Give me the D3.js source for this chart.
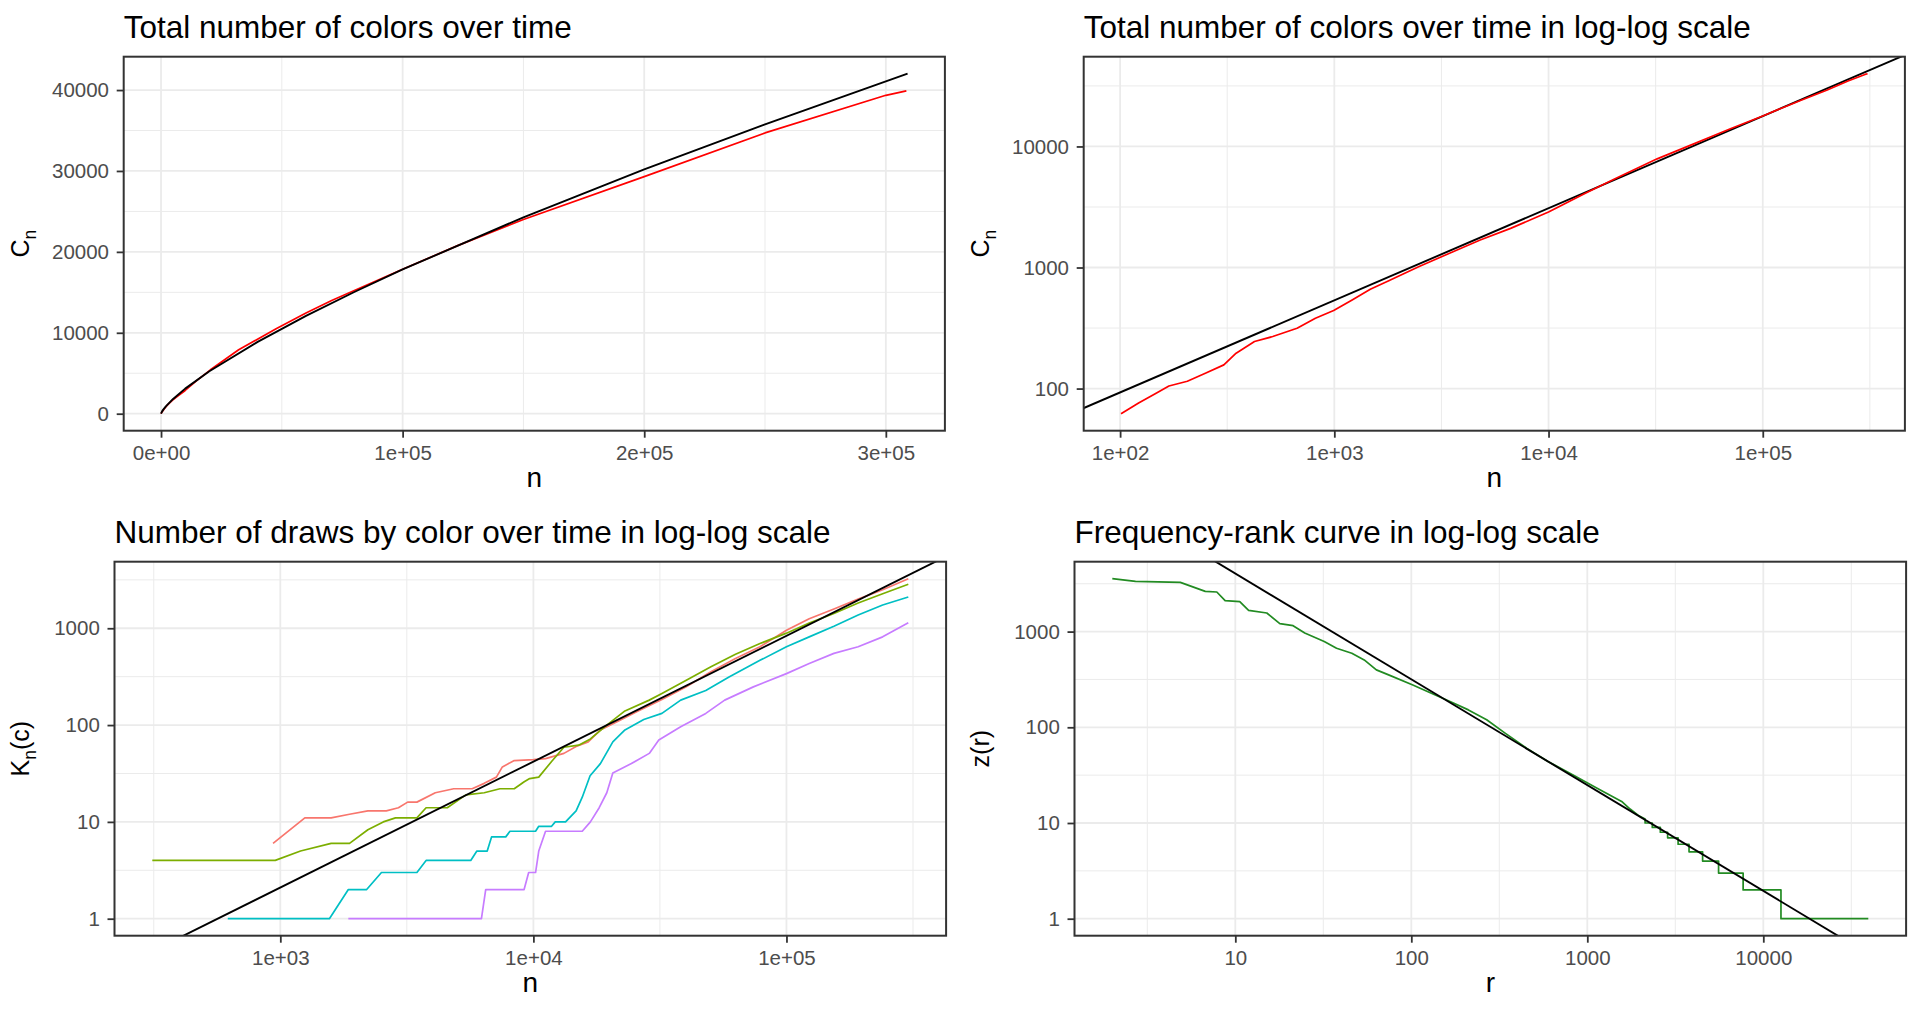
<!DOCTYPE html>
<html>
<head>
<meta charset="utf-8">
<script src="https://cdn.jsdelivr.net/npm/d3@7"></script>
<style>
  body { margin: 0; background: #fff; }
  svg { display: block; }
  text { font-family: "Liberation Sans", Arial, sans-serif; }
</style>
</head>
<body>
<svg id="fig" width="1920" height="1009"></svg>
<script>
// ---- data ----

// total number of colors C_n after n draws (red line, top panels)
var drawsN  = [0, 101, 122, 148, 169, 206, 250, 305, 348, 424, 516, 670, 816, 993, 1211, 1472, 1795, 2489, 3451, 4797, 6653, 10000, 14620, 20320, 32140, 47640, 60000, 70630, 100000, 123000, 150000, 200000, 250000, 300000, 308500];
var colorsC = [0, 62, 76, 92, 105, 115, 134, 157, 196, 245, 269, 315, 381, 441, 540, 661, 776, 1019, 1312, 1687, 2104, 2871, 4055, 5395, 7900, 10500, 12450, 14000, 17850, 20800, 24000, 29300, 34700, 39350, 39900];

// fitted curve (black) in linear scale
var fitN = [0, 500, 1000, 2000, 5000, 10000, 20000, 40000, 60000, 80000, 100000, 150000, 200000, 250000, 309000];
var fitC = [0, 318, 538, 911, 1829, 3097, 5245, 8884, 12085, 15040, 17825, 24270, 30190, 35770, 42020];

// fitted straight line in log-log (two ends, clipped by the panel)
var fitCLog = [[60, 63], [500000, 60600]];

// number of draws K_n(c) for four colors
var drawsColor1 = [[936,6],[1250,11],[1588,11],[1877,12],[2218,13],[2622,13],[2929,14],[3185,16],[3465,16],[4097,20],[4845,22],[5728,22],[6394,25],[7142,29],[7540,37],[8400,43],[10000,44],[11170,45],[13200,51],[14750,60],[16470,67],[18400,89],[21800,111],[25700,138],[32200,184],[40200,249],[50300,355],[62900,486],[78600,644],[100000,955],[123000,1254],[154000,1580],[192000,2000],[240000,2500],[303000,3250]];
var drawsColor2 = [[312,4],[955,4],[1202,5],[1588,6],[1877,6],[2218,8.3],[2551,10],[2852,11],[3465,11],[3767,14],[4567,14],[5410,19],[6394,20],[7375,22],[8400,22],[9200,26],[9668,28],[10500,29],[11800,42],[13200,59],[15100,62],[16800,72],[19500,100],[23000,140],[28700,181],[32200,212],[40200,291],[50300,400],[62900,540],[78600,695],[100000,890],[123000,1130],[154000,1420],[192000,1820],[240000,2270],[303000,2850]];
var drawsColor3 = [[620,1],[1563,1],[1857,2],[2194,2],[2510,3],[3465,3],[3767,4],[5655,4],[5980,5],[6570,5],[6834,7],[7776,7],[8080,8],[10200,8],[10500,9],[11800,9],[12200,10],[13400,10],[14750,13],[15600,18],[16750,30],[18400,40],[20600,67],[23000,89],[27300,114],[32200,132],[38200,181],[48000,228],[59300,314],[78600,466],[100000,644],[123000,815],[154000,1050],[192000,1370],[240000,1740],[303000,2100]];
var drawsColor4 = [[1857,1],[6234,1],[6480,2],[9190,2],[9580,3],[10200,3],[10500,5],[11170,8],[15600,8],[16800,10],[18200,14],[19500,20],[20600,32],[24400,40],[28700,51],[31300,70],[38200,96],[48000,132],[57000,181],[74000,248],[100000,340],[123000,433],[154000,550],[192000,644],[240000,815],[303000,1140]];
var fitKLog = [[200, 0.259], [500000, 6775]];

// frequency-rank curve z(r)
var rankFreq = [[2,3570],[2.71,3350],[4.87,3270],[6.75,2630],[7.85,2594],[8.75,2104],[10.6,2052],[11.9,1666],[15.1,1563],[17.9,1210],[21.3,1153],[24.8,967],[32,787],[37.6,670],[45.9,594],[54,506],[63.3,398],[74.3,353],[102,277],[130,227],[166,186],[211,152],[268,120],[341,86.9],[452,60.5],[598,44],[825,31.9],[1137,23.1],[1567,16.8],[1750,14],[1950,12],[2130,11],[2130,10],[2340,10],[2340,9],[2600,9],[2600,8],[2860,8],[2860,7],[3280,7],[3280,6],[3785,6],[3785,5],[4520,5],[4520,4],[5570,4],[5570,3],[7680,3],[7680,2],[12600,2],[12600,1],[39500,1]];
var fitZLog = [[1, 51600], [100000, 0.153]];

// ticks
var linXTicks = [0, 100000, 200000, 300000];
var linXLabels = ["0e+00", "1e+05", "2e+05", "3e+05"];
var linXMinor = [50000, 150000, 250000];
var linYTicks = [0, 10000, 20000, 30000, 40000];
var linYLabels = ["0", "10000", "20000", "30000", "40000"];
var linYMinor = [5000, 15000, 25000, 35000];

var logNTicks = [100, 1000, 10000, 100000];
var logNLabels = ["1e+02", "1e+03", "1e+04", "1e+05"];
var logCTicks = [100, 1000, 10000];
var logCLabels = ["100", "1000", "10000"];
var logKTicks = [1, 10, 100, 1000];
var logKLabels = ["1", "10", "100", "1000"];
var logRTicks = [10, 100, 1000, 10000];
var logRLabels = ["10", "100", "1000", "10000"];
var logMinor = [3.162, 31.62, 316.2, 3162, 31623, 316228];

var hueColors = ["#F8766D", "#7CAE00", "#00BFC4", "#C77CFF"];

// ---- drawing ----
var svg = d3.select("#fig");
var tickFont = 20.5, titleFont = 31.5, axisTitleFont = 28, yTitleFont = 25;

function pairs(xs, ys) {
    return xs.map(function (x, i) { return [x, ys[i]]; });
}

// ggplot-like 5% expansion, in transformed space for log scales
function makeScale(isLog, ext, range) {
    if (isLog) {
        var lo = Math.log10(ext[0]), hi = Math.log10(ext[1]), d = (hi - lo) * 0.05;
        return d3.scaleLog().domain([Math.pow(10, lo - d), Math.pow(10, hi + d)]).range(range);
    }
    var e = (ext[1] - ext[0]) * 0.05;
    return d3.scaleLinear().domain([ext[0] - e, ext[1] + e]).range(range);
}

function drawPanel(p, idx) {
    var b = p.box;
    var w = b.x1 - b.x0, h = b.y1 - b.y0;

    var all = [];
    p.series.forEach(function (s) { if (!s.fit) all = all.concat(s.data); });
    var x = makeScale(p.xLog, d3.extent(all, function (d) { return d[0]; }), [0, w]);
    var y = makeScale(p.yLog, d3.extent(all, function (d) { return d[1]; }), [h, 0]);

    var g = svg.append("g").attr("transform", "translate(" + b.x0 + "," + b.y0 + ")");

    svg.append("defs").append("clipPath").attr("id", "clip" + idx)
        .append("rect").attr("width", w).attr("height", h);

    // grid, minor then major
    var grid = g.append("g");
    function vlines(vals, sw) {
        grid.selectAll(null).data(vals.filter(function (v) { var px = x(v); return px >= 0 && px <= w; }))
            .enter().append("line")
            .attr("x1", function (d) { return x(d); }).attr("x2", function (d) { return x(d); })
            .attr("y1", 0).attr("y2", h)
            .attr("stroke", "#EBEBEB").attr("stroke-width", sw);
    }
    function hlines(vals, sw) {
        grid.selectAll(null).data(vals.filter(function (v) { var py = y(v); return py >= 0 && py <= h; }))
            .enter().append("line")
            .attr("y1", function (d) { return y(d); }).attr("y2", function (d) { return y(d); })
            .attr("x1", 0).attr("x2", w)
            .attr("stroke", "#EBEBEB").attr("stroke-width", sw);
    }
    vlines(p.xMinor, 1);
    hlines(p.yMinor, 1);
    vlines(p.xTicks, 1.8);
    hlines(p.yTicks, 1.8);

    // lines
    var line = d3.line().x(function (d) { return x(d[0]); }).y(function (d) { return y(d[1]); });
    var marks = g.append("g").attr("clip-path", "url(#clip" + idx + ")");
    p.series.forEach(function (s) {
        marks.append("path").datum(s.data)
            .attr("d", line)
            .attr("fill", "none")
            .attr("stroke", s.color)
            .attr("stroke-width", s.width || 1.7)
            .attr("stroke-linejoin", "round");
    });

    // border
    g.append("rect").attr("width", w).attr("height", h)
        .attr("fill", "none").attr("stroke", "#333333").attr("stroke-width", 2);

    // axes
    var xa = g.append("g").attr("transform", "translate(0," + h + ")")
        .call(d3.axisBottom(x).tickValues(p.xTicks)
            .tickFormat(function (d, i) { return p.xLabels[i]; })
            .tickSize(7).tickSizeOuter(0).tickPadding(7.4));
    var ya = g.append("g")
        .call(d3.axisLeft(y).tickValues(p.yTicks)
            .tickFormat(function (d, i) { return p.yLabels[i]; })
            .tickSize(7).tickSizeOuter(0).tickPadding(7.7));
    [xa, ya].forEach(function (a) {
        a.select(".domain").remove();
        a.attr("font-family", null).attr("font-size", null);
        a.selectAll(".tick line").attr("stroke", "#333333").attr("stroke-width", 1.8);
        a.selectAll(".tick text").attr("fill", "#4D4D4D").style("font-size", tickFont + "px");
    });

    // titles
    svg.append("text").attr("x", b.x0).attr("y", b.y0 - 18.7)
        .style("font-size", titleFont + "px").attr("fill", "#000").text(p.title);

    svg.append("text").attr("x", b.x0 + w / 2).attr("y", b.y1 + 56)
        .attr("text-anchor", "middle").style("font-size", axisTitleFont + "px")
        .attr("fill", "#000").text(p.xTitle);

    var yt = svg.append("text")
        .attr("transform", "translate(" + (p.cellLeft + 28.5) + "," + (b.y0 + h / 2) + ") rotate(-90)")
        .attr("text-anchor", "middle").style("font-size", yTitleFont + "px").attr("fill", "#000");
    var shifted = false;
    p.yTitle.forEach(function (part) {
        var t = yt.append("tspan").text(part[0]);
        if (part[1] && !shifted) { t.attr("dy", 7).style("font-size", (yTitleFont * 0.7) + "px"); shifted = true; }
        else if (!part[1] && shifted) { t.attr("dy", -7); shifted = false; }
    });
}

var redLog = pairs(drawsN, colorsC).filter(function (d) { return d[0] >= 100; });

var panels = [
    {
        box: { x0: 123.7, x1: 944.9, y0: 56.7, y1: 430.7 }, cellLeft: 0,
        title: "Total number of colors over time",
        xLog: false, yLog: false,
        xTicks: linXTicks, xLabels: linXLabels, xMinor: linXMinor,
        yTicks: linYTicks, yLabels: linYLabels, yMinor: linYMinor,
        xTitle: "n", yTitle: [["C", 0], ["n", 1]],
        series: [
            { data: pairs(drawsN, colorsC), color: "#FF0000" },
            { data: pairs(fitN, fitC), color: "#000000", width: 1.9 }
        ]
    },
    {
        box: { x0: 1083.7, x1: 1904.9, y0: 56.7, y1: 430.7 }, cellLeft: 960,
        title: "Total number of colors over time in log-log scale",
        xLog: true, yLog: true,
        xTicks: logNTicks, xLabels: logNLabels, xMinor: logMinor,
        yTicks: logCTicks, yLabels: logCLabels, yMinor: logMinor,
        xTitle: "n", yTitle: [["C", 0], ["n", 1]],
        series: [
            { data: fitCLog, color: "#000000", width: 1.9, fit: true },
            { data: redLog, color: "#FF0000" }
        ]
    },
    {
        box: { x0: 114.5, x1: 946.1, y0: 561.7, y1: 935.7 }, cellLeft: 0,
        title: "Number of draws by color over time in log-log scale",
        xLog: true, yLog: true,
        xTicks: logNTicks.slice(1), xLabels: logNLabels.slice(1), xMinor: logMinor,
        yTicks: logKTicks, yLabels: logKLabels, yMinor: logMinor,
        xTitle: "n", yTitle: [["K", 0], ["n", 1], ["(c)", 0]],
        series: [
            { data: drawsColor1, color: hueColors[0] },
            { data: drawsColor2, color: hueColors[1] },
            { data: drawsColor3, color: hueColors[2] },
            { data: drawsColor4, color: hueColors[3] },
            { data: fitKLog, color: "#000000", width: 1.9, fit: true }
        ]
    },
    {
        box: { x0: 1074.5, x1: 1906.1, y0: 561.7, y1: 935.7 }, cellLeft: 960,
        title: "Frequency-rank curve in log-log scale",
        xLog: true, yLog: true,
        xTicks: logRTicks, xLabels: logRLabels, xMinor: logMinor,
        yTicks: logKTicks, yLabels: logKLabels, yMinor: logMinor,
        xTitle: "r", yTitle: [["z(r)", 0]],
        series: [
            { data: rankFreq, color: "#228B22" },
            { data: fitZLog, color: "#000000", width: 1.9, fit: true }
        ]
    }
];

panels.forEach(drawPanel);
</script>
</body>
</html>
